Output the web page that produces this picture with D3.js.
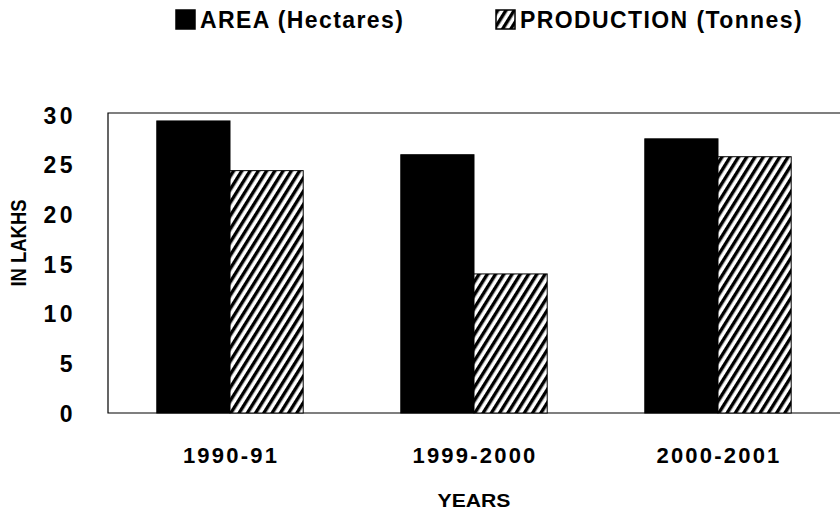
<!DOCTYPE html>
<html>
<head>
<meta charset="utf-8">
<script src="https://cdn.jsdelivr.net/npm/d3@7"></script>
<style>
  body { margin: 0; background: #fff; }
  text { font-family: "Liberation Sans", Arial, sans-serif; font-weight: bold; fill: #000; }
</style>
</head>
<body>
<svg id="chart"></svg>
<script>
var width = 840,
    height = 510;

// values (lakhs)
var years = ["1990-91", "1999-2000", "2000-2001"];
var series = ["AREA (Hectares)", "PRODUCTION (Tonnes)"];
var area = [29.4, 26.0, 27.6];
var production = [24.4, 14.0, 25.8];
var yTicks = [0, 5, 10, 15, 20, 25, 30];

var frame = {left: 108, top: 113, bottom: 413, right: 841};

var svg = d3.select("#chart")
  .attr("width", width)
  .attr("height", height);

svg.append("rect").attr("width", width).attr("height", height).attr("fill", "#fff");

// hatch pattern for production
var defs = svg.append("defs");
var pat = defs.append("pattern")
  .attr("id", "hatch")
  .attr("patternUnits", "userSpaceOnUse")
  .attr("width", 7)
  .attr("height", 7)
  .attr("patternTransform", "rotate(32)");
pat.append("rect").attr("width", 7).attr("height", 7).attr("fill", "#fff");
pat.append("rect").attr("x", 0).attr("width", 3.4).attr("height", 7).attr("fill", "#000");

var x0 = d3.scaleBand()
  .domain(years)
  .range([frame.left, 840])
  .paddingInner(0.4)
  .paddingOuter(0.2);

var x1 = d3.scaleBand()
  .domain([0, 1])
  .range([0, x0.bandwidth()]);

var y = d3.scaleLinear()
  .domain([0, 30])
  .range([413, 115]);

// frame
svg.append("path")
  .attr("d", "M" + frame.right + "," + frame.top + "H" + frame.left + "V" + frame.bottom + "H" + frame.right)
  .attr("fill", "none")
  .attr("stroke", "#000")
  .attr("stroke-width", 1.2);

var groups = svg.selectAll("g.year")
  .data(years)
  .enter().append("g")
  .attr("class", "year")
  .attr("transform", function(d) { return "translate(" + x0(d) + ",0)"; });

groups.selectAll("rect")
  .data(function(d, i) { return [area[i], production[i]]; })
  .enter().append("rect")
  .attr("x", function(d, j) { return x1(j); })
  .attr("y", function(d) { return y(d); })
  .attr("width", x1.bandwidth())
  .attr("height", function(d) { return y(0) - y(d); })
  .attr("fill", function(d, j) { return j == 0 ? "#000" : "url(#hatch)"; })
  .attr("stroke", "#000")
  .attr("stroke-width", 1);

// y axis
var yAxis = svg.append("g")
  .attr("transform", "translate(76,0)")
  .call(d3.axisLeft(y).tickValues(yTicks).tickSize(0).tickPadding(0).tickFormat(d3.format("d")));
yAxis.select(".domain").remove();
yAxis.selectAll("text")
  .attr("dy", "0.36em")
  .style("font-size", "23px")
  .style("letter-spacing", "3.5px")
  .style("font-family", "'Liberation Sans', Arial, sans-serif");

// x axis
var xAxis = svg.append("g")
  .attr("transform", "translate(0," + frame.bottom + ")")
  .call(d3.axisBottom(x0).tickSize(0).tickPadding(34));
xAxis.select(".domain").remove();
xAxis.selectAll("text")
  .attr("dx", "1")
  .style("font-size", "22px")
  .style("letter-spacing", "2.2px")
  .style("font-family", "'Liberation Sans', Arial, sans-serif");

// axis titles
svg.append("text")
  .attr("x", 474)
  .attr("y", 507)
  .attr("text-anchor", "middle")
  .attr("textLength", 73)
  .attr("lengthAdjust", "spacingAndGlyphs")
  .style("font-size", "18px")
  .text("YEARS");

svg.append("text")
  .attr("transform", "translate(26,243) rotate(-90)")
  .attr("text-anchor", "middle")
  .attr("textLength", 87)
  .attr("lengthAdjust", "spacingAndGlyphs")
  .style("font-size", "22px")
  .text("IN LAKHS");

// legend
var legendX = [176, 496];
var legend = svg.selectAll("g.legend")
  .data(series)
  .enter().append("g")
  .attr("class", "legend")
  .attr("transform", function(d, i) { return "translate(" + legendX[i] + ",10)"; });

legend.append("rect")
  .attr("width", 19)
  .attr("height", 19)
  .attr("fill", function(d, i) { return i == 0 ? "#000" : "url(#hatch)"; })
  .attr("stroke", "#000")
  .attr("stroke-width", 1.5);

legend.append("text")
  .attr("x", 24)
  .attr("y", 18)
  .style("font-size", "23px")
  .style("letter-spacing", "1.4px")
  .text(function(d) { return d; });
</script>
</body>
</html>
